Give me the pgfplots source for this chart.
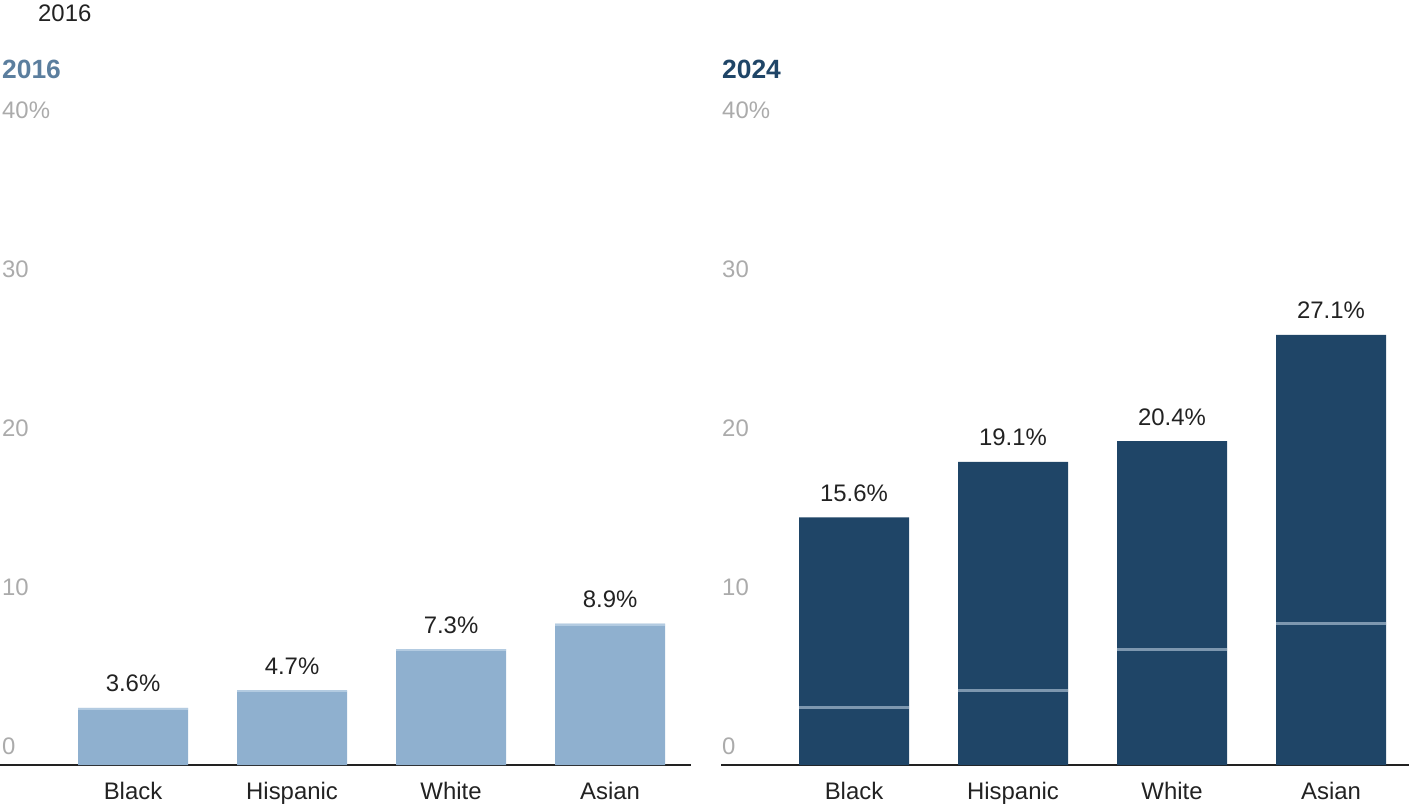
\documentclass[border=0pt]{standalone}
\usepackage{pgfplots}
\pgfplotsset{compat=1.18}
\usepackage{fontspec}
\setmainfont{Liberation Sans}
\definecolor{bar16}{HTML}{8FB0CF}
\definecolor{top16}{HTML}{B3CBE1}
\definecolor{bar24}{HTML}{1F4567}
\definecolor{mark24}{HTML}{7D97AF}
\definecolor{title16}{HTML}{5B7E9E}
\definecolor{tickgray}{HTML}{ABABAB}
\definecolor{txt}{HTML}{222222}
\newcommand{\fs}{\fontsize{24}{28}\selectfont}
\pgfplotsset{panel/.style={
  scale only axis, height=635bp, ymin=0, ymax=40, xmin=-0.8365,
  axis x line=bottom, axis y line=left,
  axis line style={-},
  y axis line style={draw=none},
  x axis line style={draw=txt, line width=1.4bp},
  major tick length=0pt,
  xtick={0,1,2,3}, xticklabels={Black,Hispanic,White,Asian},
  ytick={0,10,20,30,40}, yticklabels={0,10,20,30,40\%},
  xticklabel style={anchor=base, yshift=-34bp, font=\fs, text=txt},
  yticklabel style={anchor=base west, xshift=2bp, yshift=11bp, inner sep=0pt, font=\fs, text=tickgray},
  /pgf/number format/assume math mode=true,
  /pgf/number format/.cd, fixed, precision=1, fixed zerofill, /pgfplots/.cd,
  clip=false,
  every node near coord/.append style={anchor=base, yshift=16bp, font=\fs, text=txt, inner sep=0pt},
}}
\begin{document}
\begin{tikzpicture}
\useasboundingbox (0,0) rectangle (1409bp,806bp);
\node[anchor=base west, inner sep=0pt, font=\fs, text=txt] at (38bp,784bp) {2016};
\node[anchor=base west, inner sep=0pt, font=\fontsize{26.5}{30}\selectfont\bfseries, text=title16] at (2bp,727bp) {2016};
\node[anchor=base west, inner sep=0pt, font=\fontsize{26.5}{30}\selectfont\bfseries, text=bar24] at (722bp,727bp) {2024};
\begin{axis}[panel, at={(0bp,41bp)}, anchor=south west, width=691bp, xmax=3.509]
\addplot[ybar, bar width=110bp, fill=bar16, draw=none, nodes near coords={\pgfmathprintnumber{\pgfplotspointmeta}\%}] coordinates {(0,3.6) (1,4.7) (2,7.3) (3,8.9)};
\addplot[only marks, mark=-, mark size=55bp, mark options={line width=2bp, draw=top16}] coordinates {(0,3.55) (1,4.65) (2,7.25) (3,8.85)};
\end{axis}
\begin{axis}[panel, at={(721bp,41bp)}, anchor=south west, width=688bp, xmax=3.4906, yticklabel style={xshift=-1bp}]
\addplot[ybar, bar width=110bp, fill=bar24, draw=none, nodes near coords={\pgfmathprintnumber{\pgfplotspointmeta}\%}] coordinates {(0,15.6) (1,19.1) (2,20.4) (3,27.1)};
\addplot[only marks, mark=-, mark size=55bp, mark options={line width=3bp, draw=mark24}] coordinates {(0,3.6) (1,4.7) (2,7.3) (3,8.9)};
\end{axis}
\end{tikzpicture}
\end{document}
